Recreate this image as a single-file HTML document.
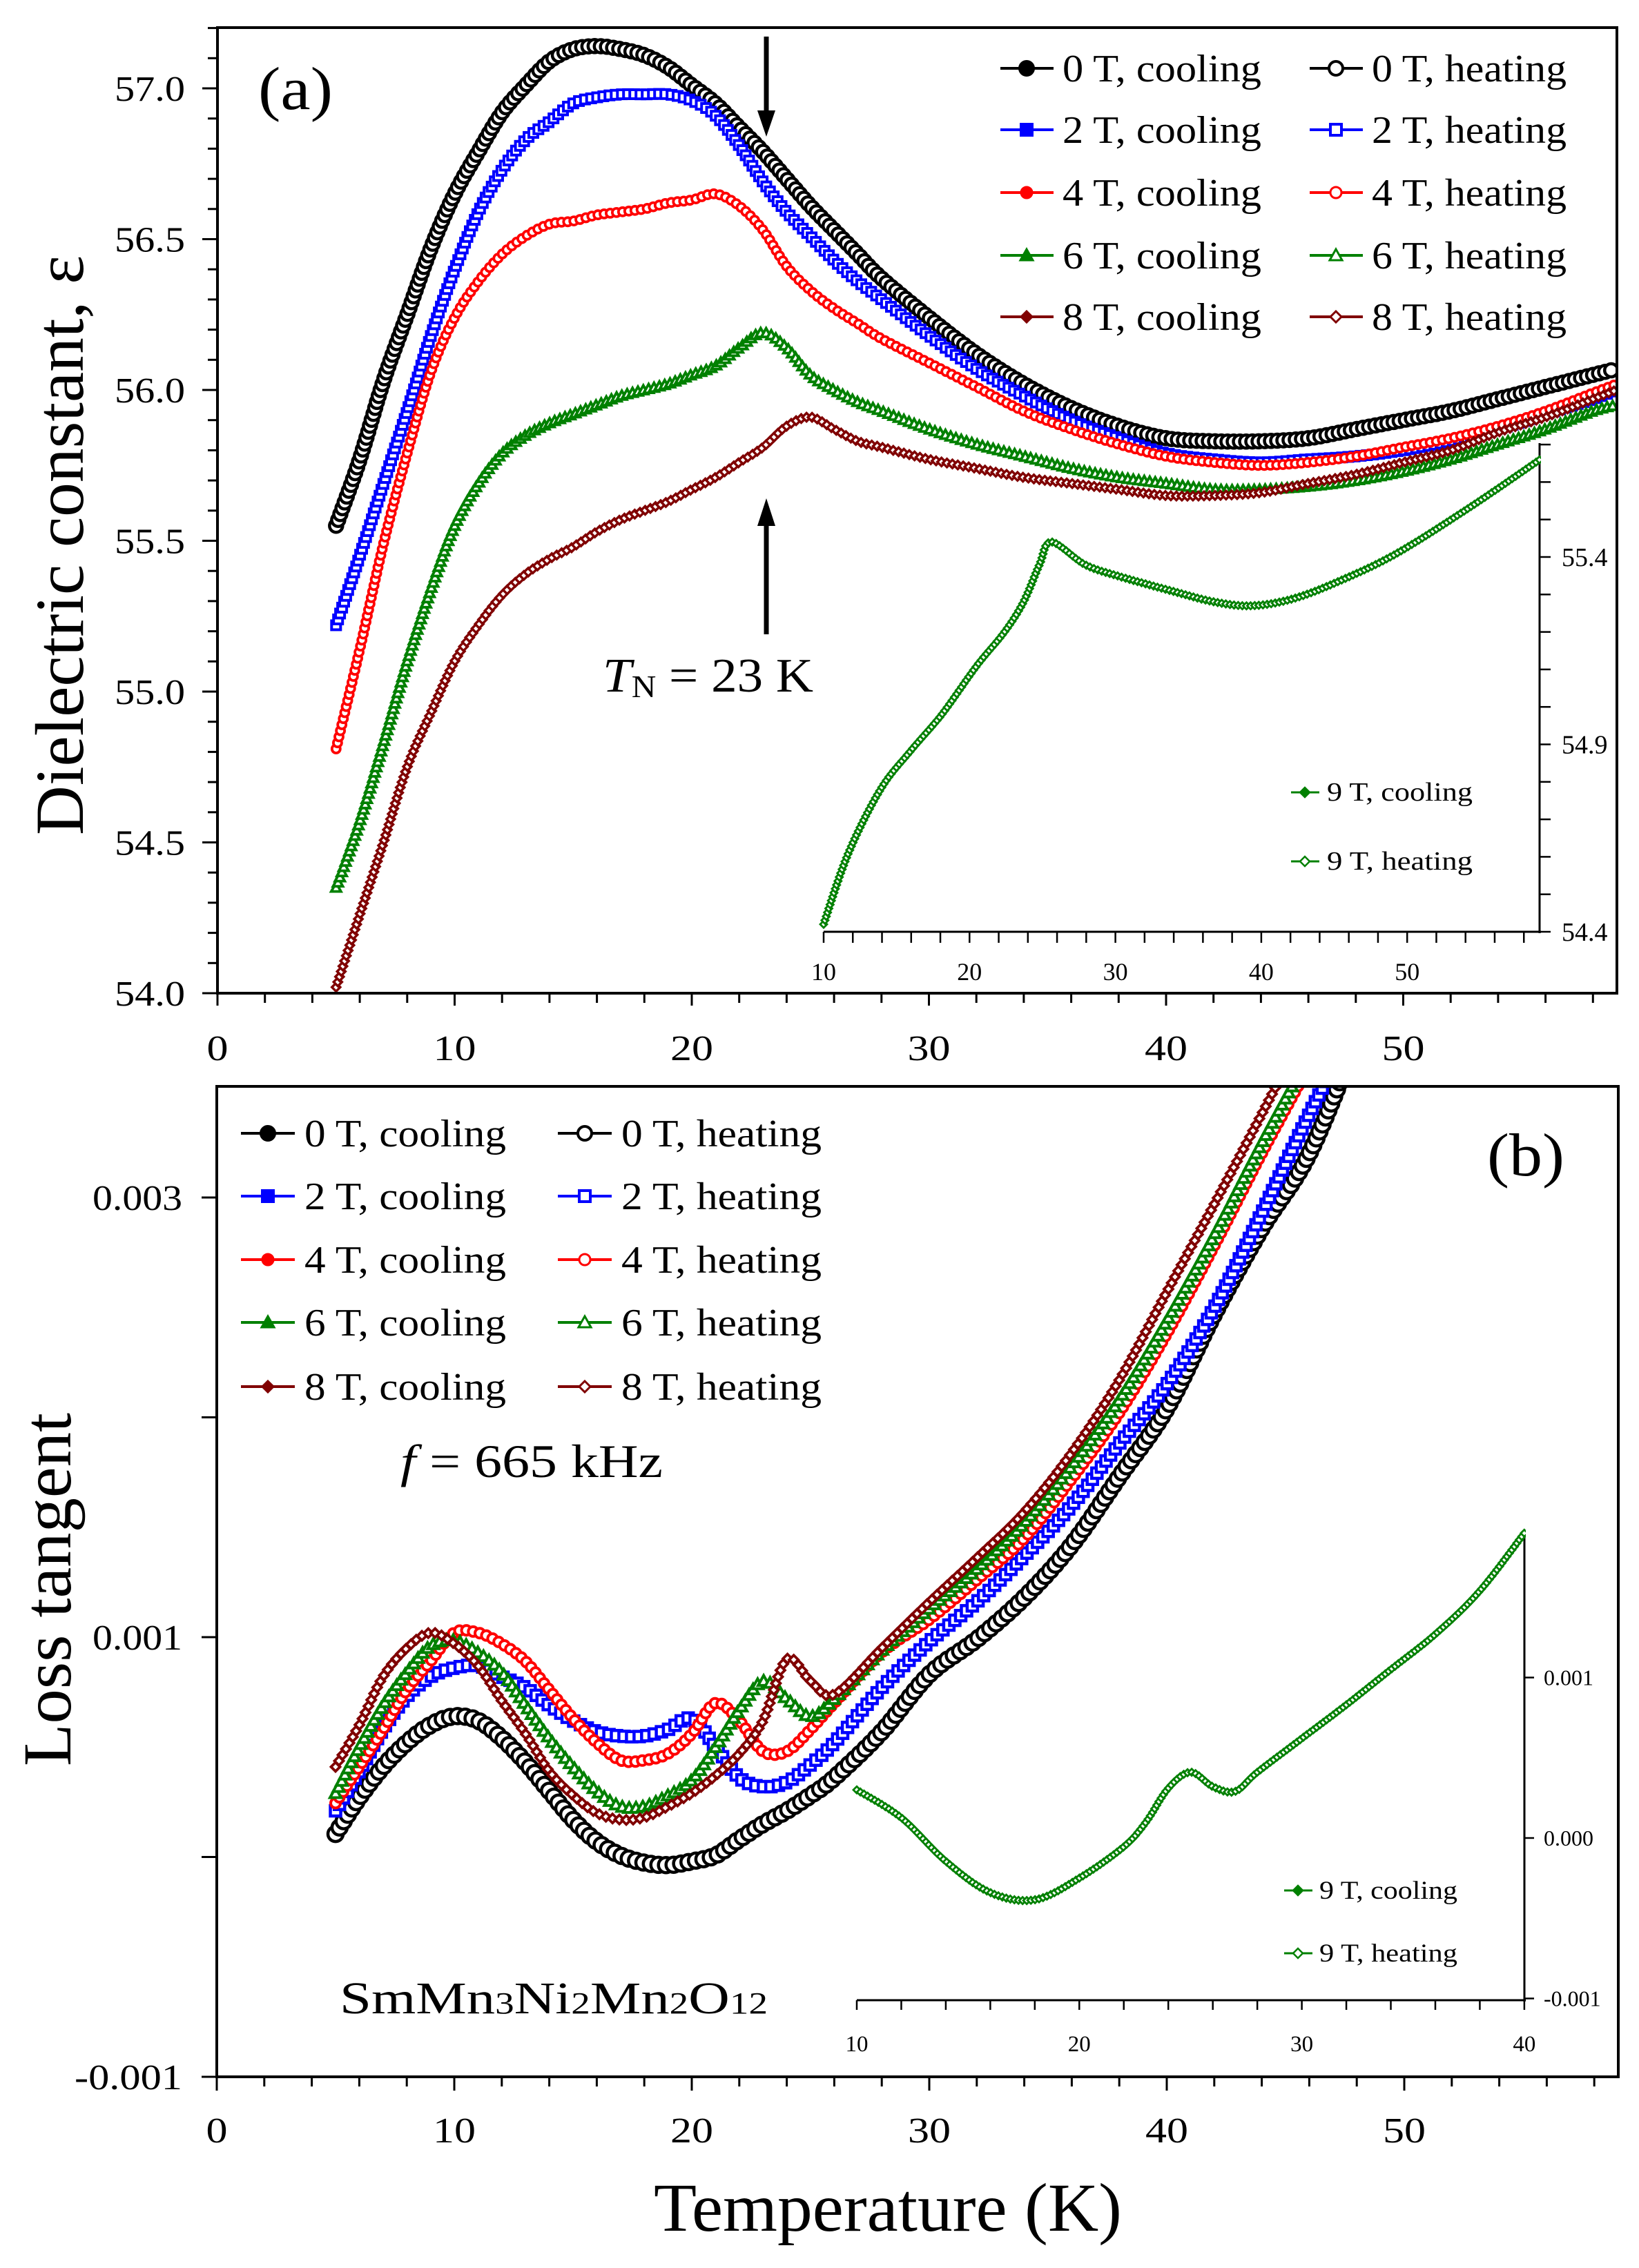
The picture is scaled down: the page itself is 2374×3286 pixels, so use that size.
<!DOCTYPE html>
<html><head><meta charset="utf-8"><title>Dielectric constant and loss tangent</title>
<style>
html,body{margin:0;padding:0;background:#fff;}
svg{display:block;font-family:"Liberation Serif",serif;}
</style></head>
<body>
<svg id="fig" xmlns="http://www.w3.org/2000/svg" width="2374" height="3286" viewBox="0 0 2374 3286">
<rect x="0" y="0" width="2374" height="3286" fill="#fff"/>
<defs>
<clipPath id="clipA"><rect x="317" y="42" width="2023" height="1395"/></clipPath>
<clipPath id="clipB"><rect x="316" y="1576" width="2026" height="1431"/></clipPath>
<clipPath id="clipIA"><rect x="1183" y="620" width="1049" height="740"/></clipPath>
<clipPath id="clipIB"><rect x="1230" y="2200" width="980" height="700"/></clipPath>
</defs>
<g id="panelA"></g>
<g id="panelB"></g>
</svg>
<script>
// ---------- Panel (a) data: dielectric constant ----------
const tempA = [5,6,7,8,9,10,11,12,13,14,15,16,17,18,19,20,21,22,23,24,25,26,27,28,30,32,34,36,38,40,42,44,46,48,50,52,54,56,58,59];
const eps0T = [55.55,55.77,56.03,56.25,56.47,56.65,56.79,56.92,57.01,57.09,57.13,57.14,57.13,57.11,57.07,57.01,56.95,56.87,56.79,56.70,56.61,56.53,56.45,56.37,56.24,56.12,56.02,55.94,55.88,55.84,55.83,55.83,55.84,55.87,55.90,55.93,55.97,56.01,56.05,56.07];
const eps2T = [55.22,55.45,55.69,55.93,56.18,56.40,56.59,56.73,56.83,56.89,56.95,56.97,56.98,56.98,56.98,56.96,56.91,56.81,56.69,56.59,56.51,56.43,56.36,56.30,56.18,56.07,55.98,55.90,55.84,55.79,55.77,55.76,55.77,55.78,55.80,55.83,55.87,55.92,55.97,56.00];
const eps4T = [54.81,55.14,55.49,55.79,56.06,56.24,56.36,56.45,56.51,56.55,56.56,56.58,56.59,56.60,56.62,56.63,56.65,56.61,56.53,56.41,56.33,56.27,56.22,56.17,56.09,56.01,55.93,55.87,55.82,55.78,55.76,55.75,55.76,55.78,55.81,55.84,55.88,55.93,55.99,56.02];
const eps6T = [54.35,54.57,54.83,55.10,55.34,55.55,55.69,55.79,55.85,55.89,55.92,55.95,55.98,56.00,56.02,56.05,56.08,56.14,56.19,56.14,56.05,56.00,55.96,55.93,55.87,55.82,55.78,55.74,55.71,55.69,55.67,55.67,55.68,55.70,55.73,55.77,55.82,55.87,55.93,55.95];
const eps8T = [54.02,54.26,54.50,54.75,54.93,55.10,55.22,55.32,55.39,55.44,55.48,55.53,55.57,55.60,55.63,55.67,55.71,55.76,55.81,55.88,55.91,55.87,55.83,55.81,55.77,55.74,55.71,55.69,55.67,55.65,55.65,55.66,55.69,55.72,55.76,55.80,55.86,55.91,55.97,56.00];
const tempInsetA = [10,11.7,13.9,15.9,18.1,20.5,22.4,23.7,24.8,25.6,27.9,30.1,33.8,36.8,39.4,42.3,45.6,49.3,54.2,59.1];
const epsInsetA9T = [54.42,54.61,54.78,54.88,54.98,55.11,55.20,55.28,55.38,55.44,55.38,55.35,55.31,55.28,55.27,55.29,55.34,55.41,55.53,55.66];
const yTicksA = [54.0,54.5,55.0,55.5,56.0,56.5,57.0];
const yTickLabelsA = ["54.0","54.5","55.0","55.5","56.0","56.5","57.0"];
const xTicksMain = [0,10,20,30,40,50];
const xTickLabelsMain = ["0","10","20","30","40","50"];
const yTicksInsetA = [54.4,54.9,55.4];
const yTickLabelsInsetA = ["54.4","54.9","55.4"];
const xTicksInsetA = [10,20,30,40,50];
const xTickLabelsInsetA = ["10","20","30","40","50"];

// ---------- Panel (b) data: loss tangent (units of 1e-3) ----------
const tempB = [5,6,7,8,9,10,11,12,13,14,15,16,17,18,19,20,21,22,23,24,25,26,28,30,32,34,36,38,40,42,44,46,48];
const loss0T = [0.105,0.27,0.41,0.52,0.60,0.64,0.62,0.54,0.43,0.30,0.17,0.07,0.007,-0.026,-0.037,-0.02,0.007,0.08,0.15,0.21,0.28,0.36,0.57,0.83,0.99,1.18,1.42,1.73,2.04,2.47,2.86,3.2,3.72];
const loss2T = [0.21,0.39,0.58,0.73,0.82,0.86,0.87,0.82,0.77,0.69,0.62,0.57,0.55,0.55,0.58,0.63,0.50,0.36,0.32,0.34,0.42,0.52,0.77,0.98,1.16,1.37,1.60,1.88,2.15,2.5,2.93,3.38,3.8];
const loss4T = [0.245,0.41,0.58,0.76,0.89,1.02,1.02,0.97,0.89,0.76,0.63,0.52,0.44,0.44,0.47,0.56,0.70,0.62,0.48,0.48,0.58,0.70,0.93,1.08,1.26,1.45,1.72,2.02,2.38,2.78,3.2,3.6,4.0];
const loss6T = [0.29,0.50,0.69,0.84,0.96,0.985,0.93,0.84,0.69,0.54,0.41,0.30,0.23,0.23,0.28,0.35,0.50,0.67,0.80,0.72,0.64,0.72,0.94,1.13,1.31,1.52,1.78,2.08,2.44,2.83,3.25,3.65,4.05];
const loss8T = [0.41,0.60,0.82,0.95,1.02,0.97,0.87,0.71,0.56,0.39,0.28,0.20,0.17,0.18,0.23,0.29,0.37,0.47,0.62,0.90,0.80,0.74,0.95,1.16,1.36,1.57,1.84,2.17,2.57,2.97,3.38,3.8,4.2];
const tempInsetB = [10,12,14,16,18,20,22,23,24,25,26,27,28,30,32,34,36,38,40];
const lossInsetB9T = [0.30,0.126,-0.145,-0.34,-0.385,-0.25,-0.054,0.10,0.31,0.41,0.32,0.29,0.41,0.62,0.83,1.05,1.27,1.54,1.90];
const yTicksB = [-1,1,3];
const yTickLabelsB = ["-0.001","0.001","0.003"];
const yTicksInsetB = [-1,0,1];
const yTickLabelsInsetB = ["-0.001","0.000","0.001"];
const xTicksInsetB = [10,20,30,40];
const xTickLabelsInsetB = ["10","20","30","40"];

const legendLabels = ["0 T, cooling","0 T, heating","2 T, cooling","2 T, heating","4 T, cooling","4 T, heating","6 T, cooling","6 T, heating","8 T, cooling","8 T, heating"];
const insetLegendLabels = ["9 T, cooling","9 T, heating"];

// ---------- scales ----------
const xA = t => 315 + 34.35 * t;
const yA = v => 128 + (57 - v) * 437;
const xB = t => 314 + 34.4 * t;
const yB = v => 2372 - (v - 1) * 318.5;
const xIA = t => 1193 + 21.13 * (t - 10);
const yIA = v => 807 + (55.4 - v) * 543;
const xIB = t => 1241 + 32.23 * (t - 10);
const yIB = v => 2663 - v * 232.5;

const NS = "http://www.w3.org/2000/svg";
function mk(tag, attrs, parent) {
  const el = document.createElementNS(NS, tag);
  for (const k in attrs) el.setAttribute(k, attrs[k]);
  parent.appendChild(el);
  return el;
}
function smoothPath(xs, ys, sx, sy) {
  const p = xs.map((t, i) => [sx(t), sy(ys[i])]);
  let d = "M" + p[0][0].toFixed(1) + "," + p[0][1].toFixed(1);
  for (let i = 0; i < p.length - 1; i++) {
    const p0 = p[Math.max(i - 1, 0)], p1 = p[i], p2 = p[i + 1], p3 = p[Math.min(i + 2, p.length - 1)];
    const c1x = p1[0] + (p2[0] - p0[0]) / 6, c1y = p1[1] + (p2[1] - p0[1]) / 6;
    const c2x = p2[0] - (p3[0] - p1[0]) / 6, c2y = p2[1] - (p3[1] - p1[1]) / 6;
    d += " C" + c1x.toFixed(1) + "," + c1y.toFixed(1) + " " + c2x.toFixed(1) + "," + c2y.toFixed(1) + " " + p2[0].toFixed(1) + "," + p2[1].toFixed(1);
  }
  return d;
}
function shapeAt(parent, shape, cx, cy, s, sw, color, fill) {
  if (shape === "circle") return mk("circle", {cx: cx.toFixed(1), cy: cy.toFixed(1), r: s, fill: fill, stroke: color, "stroke-width": sw}, parent);
  if (shape === "square") return mk("rect", {x: (cx - s).toFixed(1), y: (cy - s).toFixed(1), width: 2 * s, height: 2 * s, fill: fill, stroke: color, "stroke-width": sw}, parent);
  if (shape === "tri") return mk("polygon", {points: cx.toFixed(1) + "," + (cy - s).toFixed(1) + " " + (cx - s).toFixed(1) + "," + (cy + 0.8 * s).toFixed(1) + " " + (cx + s).toFixed(1) + "," + (cy + 0.8 * s).toFixed(1), fill: fill, stroke: color, "stroke-width": sw}, parent);
  return mk("polygon", {points: cx.toFixed(1) + "," + (cy - s).toFixed(1) + " " + (cx + s).toFixed(1) + "," + cy.toFixed(1) + " " + cx.toFixed(1) + "," + (cy + s).toFixed(1) + " " + (cx - s).toFixed(1) + "," + cy.toFixed(1), fill: fill, stroke: color, "stroke-width": sw}, parent);
}
function drawSeries(parent, name, xs, ys, sx, sy, color, shape, s, sw, gap) {
  const g = mk("g", {}, parent);
  
  
  const d = smoothPath(xs, ys, sx, sy);
  const p = mk("path", {d: d, fill: "none", stroke: color, "stroke-width": 3}, g);
  const L = p.getTotalLength();
  for (let l = 0; l <= L; l += gap) {
    const pt = p.getPointAtLength(l);
    shapeAt(g, shape, pt.x, pt.y, s, sw, color, "#fff");
  }
}
function txt(parent, x, y, s, size, anchor, name, extra) {
  const t = mk("text", Object.assign({x: x, y: y, "font-size": size, "text-anchor": anchor || "start", fill: "#000"}, extra || {}), parent);
  t.textContent = s;
  
  
  return t;
}
function line(parent, x1, y1, x2, y2, sw, color) {
  return mk("line", {x1: x1, y1: y1, x2: x2, y2: y2, stroke: color || "#000", "stroke-width": sw}, parent);
}
function marker(parent, shape, cx, cy, color, open) {
  const fill = open ? "#fff" : color;
  if (shape === "circle") return mk("circle", {cx: cx, cy: cy, r: 10, fill: fill, stroke: color, "stroke-width": 4}, parent);
  if (shape === "square") return mk("rect", {x: cx - 8, y: cy - 8, width: 16, height: 16, fill: fill, stroke: color, "stroke-width": 4}, parent);
  if (shape === "dot") return mk("circle", {cx: cx, cy: cy, r: 8, fill: fill, stroke: color, "stroke-width": 3}, parent);
  if (shape === "tri") return mk("polygon", {points: (cx) + "," + (cy - 9) + " " + (cx - 9) + "," + (cy + 7) + " " + (cx + 9) + "," + (cy + 7), fill: fill, stroke: color, "stroke-width": 3}, parent);
  return mk("polygon", {points: cx + "," + (cy - 8) + " " + (cx + 8) + "," + cy + " " + cx + "," + (cy + 8) + " " + (cx - 8) + "," + cy, fill: fill, stroke: color, "stroke-width": 3}, parent);
}

const colors = ["#000000", "#0000ff", "#ff0000", "#008000", "#800000"];
const shapes = ["circle", "square", "dot", "tri", "diamond"];
const green = "#008000";

// ================= PANEL A =================
const A = document.getElementById("panelA");
const frameA = mk("rect", {x: 315, y: 40, width: 2027, height: 1399, fill: "none", stroke: "#000", "stroke-width": 4}, A);


for (let i = 0; i <= 32; i++) {
  const v = 54 + i * 0.1;
  const major = i % 5 === 0;
  line(A, 315, yA(v), 315 - (major ? 22 : 14), yA(v), 3);
}
yTicksA.forEach((v, i) => txt(A, 268, yA(v) + 18, yTickLabelsA[i], 52, "end", "y-tick-label-a", {textLength: 102, lengthAdjust: "spacingAndGlyphs"}));
for (let t = 0; t <= 58; t += 2) {
  const major = t % 10 === 0;
  line(A, xA(t), 1439, xA(t), 1439 + (major ? 18 : 14), 3);
}
xTicksMain.forEach((t, i) => txt(A, xA(t), 1536, xTickLabelsMain[i], 52, "middle", "x-tick-label-a", {textLength: xTickLabelsMain[i].length * 31, lengthAdjust: "spacingAndGlyphs"}));
txt(A, 0, 0, "Dielectric constant, ε", 100, "middle", "y-axis-title-a", {transform: "translate(120,790) rotate(-90)", textLength: 840, lengthAdjust: "spacingAndGlyphs"});

// inset a axes
const IA = mk("g", {}, A);


line(IA, 1193, 1350, 2232, 1350, 3);
line(IA, 2230, 642, 2230, 1352, 3);
for (let i = 0; i <= 13; i++) {
  const v = 54.4 + i * 0.1;
  line(IA, 2230, yIA(v), 2246, yIA(v), 2.5);
}
yTicksInsetA.forEach((v, i) => txt(IA, 2262, yIA(v) + 13, yTickLabelsInsetA[i], 38, "start", "inset-a-y-tick-label"));
for (let t = 10; t <= 58; t += 2) line(IA, xIA(t), 1350, xIA(t), 1366, 2.5);
xTicksInsetA.forEach((t, i) => txt(IA, xIA(t), 1420, xTickLabelsInsetA[i], 36, "middle", "inset-a-x-tick-label"));

// series a
const SA = mk("g", {"clip-path": "url(#clipA)"}, A);


drawSeries(SA, "series-0T", tempA, eps0T, xA, yA, colors[0], "circle", 9.5, 4.5, 9);
drawSeries(SA, "series-2T", tempA, eps2T, xA, yA, colors[1], "square", 6.5, 4, 9);
drawSeries(SA, "series-4T", tempA, eps4T, xA, yA, colors[2], "circle", 6, 3.8, 9);
drawSeries(SA, "series-6T", tempA, eps6T, xA, yA, colors[3], "tri", 7, 3.8, 8);
drawSeries(SA, "series-8T", tempA, eps8T, xA, yA, colors[4], "diamond", 6, 3.5, 8);
const SIA = mk("g", {"clip-path": "url(#clipIA)"}, A);


drawSeries(SIA, "series-9T-inset-a", tempInsetA, epsInsetA9T, xIA, yIA, green, "diamond", 5, 2.8, 6);

// legend a
const LA = mk("g", {}, A);


const legRowsA = [99, 188, 279, 370, 459];
legendLabels.forEach((lab, i) => {
  const row = Math.floor(i / 2), col = i % 2;
  const y = legRowsA[row];
  const x0 = col === 0 ? 1449 : 1897;
  const g = mk("g", {}, LA);
  
  
  line(g, x0, y, x0 + 77, y, 4, colors[row]);
  marker(g, shapes[row], x0 + 38, y, colors[row], col === 1);
  txt(g, x0 + 90, y + 19, lab, 56, "start", "legend-label", {textLength: col === 0 ? 288 : 282, lengthAdjust: "spacingAndGlyphs"});
});
[1148, 1248].forEach((y, i) => {
  const g = mk("g", {}, A);
  
  
  line(g, 1870, y, 1911, y, 3, green);
  mk("polygon", {points: "1890," + (y - 7) + " 1897," + y + " 1890," + (y + 7) + " 1883," + y, fill: i === 0 ? green : "#fff", stroke: green, "stroke-width": 2.5}, g);
  txt(g, 1922, y + 12, insetLegendLabels[i], 38, "start", "inset-legend-label", {textLength: 211, lengthAdjust: "spacingAndGlyphs"});
});

// annotations a
txt(A, 428, 158, "(a)", 88, "middle", "panel-label-a", {textLength: 108, lengthAdjust: "spacingAndGlyphs"});
const arrDown = mk("g", {}, A);


line(arrDown, 1110, 53, 1110, 165, 7);
mk("polygon", {points: "1097,160 1123,160 1110,198", fill: "#000"}, arrDown);
const arrUp = mk("g", {}, A);


line(arrUp, 1110, 919, 1110, 760, 7);
mk("polygon", {points: "1097,762 1123,762 1110,722", fill: "#000"}, arrUp);
const tn = mk("text", {x: 873, y: 1002, "font-size": 70, fill: "#000", textLength: 305, lengthAdjust: "spacingAndGlyphs"}, A);


const tnT = mk("tspan", {"font-style": "italic"}, tn); tnT.textContent = "T";
const tnN = mk("tspan", {"font-size": 46, dy: 8}, tn); tnN.textContent = "N";
const tnR = mk("tspan", {dy: -8}, tn); tnR.textContent = " = 23 K";

// ================= PANEL B =================
const B = document.getElementById("panelB");
const frameB = mk("rect", {x: 314, y: 1574, width: 2030, height: 1435, fill: "none", stroke: "#000", "stroke-width": 4}, B);


[-1, 0, 1, 2, 3].forEach(v => line(B, 314, yB(v), 292, yB(v), 3));
yTicksB.forEach((v, i) => txt(B, 264, yB(v) + 18, yTickLabelsB[i], 52, "end", "y-tick-label-b", {textLength: yTickLabelsB[i].length * 26, lengthAdjust: "spacingAndGlyphs"}));
for (let t = 0; t <= 58; t += 2) {
  const major = t % 10 === 0;
  line(B, xB(t), 3009, xB(t), 3009 + (major ? 20 : 14), 3);
}
xTicksMain.forEach((t, i) => txt(B, xB(t), 3104, xTickLabelsMain[i], 52, "middle", "x-tick-label-b", {textLength: xTickLabelsMain[i].length * 31, lengthAdjust: "spacingAndGlyphs"}));
txt(B, 0, 0, "Loss tangent", 100, "middle", "y-axis-title-b", {transform: "translate(102,2303) rotate(-90)", textLength: 512, lengthAdjust: "spacingAndGlyphs"});
txt(B, 1286, 3232, "Temperature (K)", 100, "middle", "x-axis-title", {textLength: 678, lengthAdjust: "spacingAndGlyphs"});

// inset b axes
const IB = mk("g", {}, B);


line(IB, 1241, 2898, 2210, 2898, 3);
line(IB, 2208, 2218, 2208, 2900, 3);
yTicksInsetB.forEach(v => line(IB, 2208, yIB(v), 2222, yIB(v), 2.5));
yTicksInsetB.forEach((v, i) => txt(IB, 2236, yIB(v) + 11, yTickLabelsInsetB[i], 32, "start", "inset-b-y-tick-label"));
for (let t = 10; t <= 40; t += 2) line(IB, xIB(t), 2898, xIB(t), 2912, 2.5);
xTicksInsetB.forEach((t, i) => txt(IB, xIB(t), 2972, xTickLabelsInsetB[i], 33, "middle", "inset-b-x-tick-label"));

// series b
const SB = mk("g", {"clip-path": "url(#clipB)"}, B);


drawSeries(SB, "loss-0T", tempB, loss0T, xB, yB, colors[0], "circle", 11, 4.5, 11);
drawSeries(SB, "loss-2T", tempB, loss2T, xB, yB, colors[1], "square", 7.5, 4.5, 11);
drawSeries(SB, "loss-4T", tempB, loss4T, xB, yB, colors[2], "circle", 7, 4, 10);
drawSeries(SB, "loss-6T", tempB, loss6T, xB, yB, colors[3], "tri", 8, 4, 10);
drawSeries(SB, "loss-8T", tempB, loss8T, xB, yB, colors[4], "diamond", 6.5, 3.8, 10);
const SIB = mk("g", {"clip-path": "url(#clipIB)"}, B);


drawSeries(SIB, "loss-9T-inset-b", tempInsetB, lossInsetB9T, xIB, yIB, green, "diamond", 5, 2.8, 6);

// legend b
const legRowsB = [1642, 1733, 1825, 1916, 2009];
legendLabels.forEach((lab, i) => {
  const row = Math.floor(i / 2), col = i % 2;
  const y = legRowsB[row];
  const x0 = col === 0 ? 349 : 808;
  const g = mk("g", {}, B);
  
  
  line(g, x0, y, x0 + 78, y, 4, colors[row]);
  marker(g, shapes[row], x0 + 39, y, colors[row], col === 1);
  txt(g, x0 + 92, y + 19, lab, 56, "start", "legend-label", {textLength: col === 0 ? 292 : 290, lengthAdjust: "spacingAndGlyphs"});
});
[2739, 2830].forEach((y, i) => {
  const g = mk("g", {}, B);
  
  
  line(g, 1860, y, 1901, y, 3, green);
  mk("polygon", {points: "1880," + (y - 7) + " 1887," + y + " 1880," + (y + 7) + " 1873," + y, fill: i === 0 ? green : "#fff", stroke: green, "stroke-width": 2.5}, g);
  txt(g, 1911, y + 12, insetLegendLabels[i], 37, "start", "inset-legend-label", {textLength: 200, lengthAdjust: "spacingAndGlyphs"});
});

txt(B, 2210, 1703, "(b)", 88, "middle", "panel-label-b", {textLength: 112, lengthAdjust: "spacingAndGlyphs"});
const fq = mk("text", {x: 580, y: 2140, "font-size": 68, fill: "#000", textLength: 380, lengthAdjust: "spacingAndGlyphs"}, B);


const fI = mk("tspan", {"font-style": "italic"}, fq); fI.textContent = "f";
const fR = mk("tspan", {}, fq); fR.textContent = " = 665 kHz";
const cmp = mk("text", {x: 492, y: 2917, "font-size": 66, fill: "#000", textLength: 620, lengthAdjust: "spacingAndGlyphs"}, B);


[["SmMn", 0], ["3", 1], ["Ni", 0], ["2", 1], ["Mn", 0], ["2", 1], ["O", 0], ["12", 1]].forEach(p => {
  const s = mk("tspan", p[1] ? {"font-size": 44} : {}, cmp);
  s.textContent = p[0];
});
</script>
</body></html>
